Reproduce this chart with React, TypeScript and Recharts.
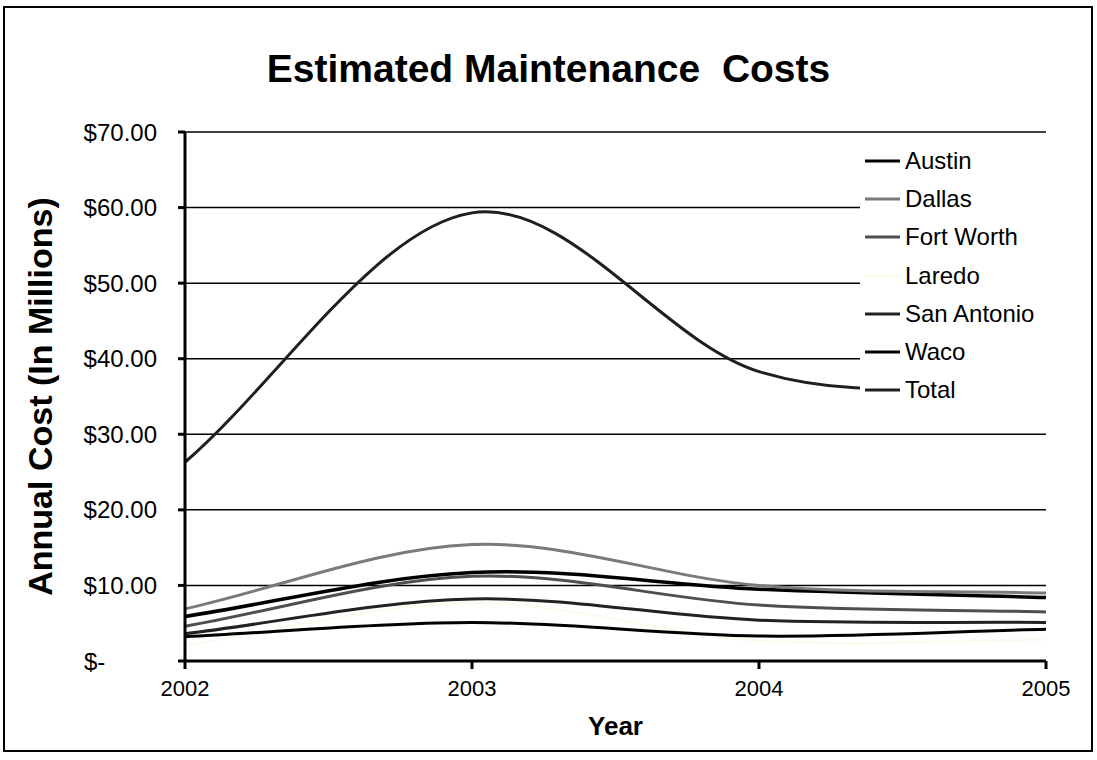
import { LineChart, Line, XAxis, YAxis, CartesianGrid, Legend } from "recharts"

const years = [2002, 2003, 2004, 2005]
const austin = [5.9, 11.7, 9.5, 8.4]
const dallas = [6.9, 15.4, 10.0, 9.0]
const fortWorth = [4.6, 11.2, 7.4, 6.5]
const laredo = [2.1, 7.7, 2.7, 2.8]
const sanAntonio = [3.6, 8.2, 5.4, 5.1]
const waco = [3.2, 5.1, 3.3, 4.2]
const total = [26.3, 59.3, 38.3, 36.0]

const costTicks = [0, 10, 20, 30, 40, 50, 60, 70]

const legendOrder = ["Austin", "Dallas", "Fort Worth", "Laredo", "San Antonio", "Waco", "Total"]

const data = years.map((year, i) => ({
  year,
  Austin: austin[i],
  Dallas: dallas[i],
  "Fort Worth": fortWorth[i],
  Laredo: laredo[i],
  "San Antonio": sanAntonio[i],
  Waco: waco[i],
  Total: total[i],
}))

const FONT = "'Liberation Sans', Arial, sans-serif"

// Excel-style smoothed line: Catmull-Rom bezier, endpoints reflected
function excelSmooth(context: any) {
  let pts: [number, number][] = []
  return {
    areaStart() {},
    areaEnd() {},
    lineStart() {
      pts = []
    },
    point(x: number, y: number) {
      pts.push([+x, +y])
    },
    lineEnd() {
      const n = pts.length
      if (n === 0) return
      context.moveTo(pts[0][0], pts[0][1])
      if (n === 1) return
      const get = (i: number): [number, number] => {
        if (i < 0) return [2 * pts[0][0] - pts[1][0], 2 * pts[0][1] - pts[1][1]]
        if (i >= n) return [2 * pts[n - 1][0] - pts[n - 2][0], 2 * pts[n - 1][1] - pts[n - 2][1]]
        return pts[i]
      }
      for (let i = 0; i < n - 1; i++) {
        const p0 = get(i - 1)
        const p1 = pts[i]
        const p2 = pts[i + 1]
        const p3 = get(i + 2)
        context.bezierCurveTo(
          p1[0] + (p2[0] - p0[0]) / 6,
          p1[1] + (p2[1] - p0[1]) / 6,
          p2[0] - (p3[0] - p1[0]) / 6,
          p2[1] - (p3[1] - p1[1]) / 6,
          p2[0],
          p2[1]
        )
      }
    },
  }
}

const CostTick = ({ x, y, payload }: any) => {
  if (payload.value === 0) {
    return (
      <text x={x - 73} y={y} dy="0.355em" textAnchor="start" fontSize={24} fontFamily={FONT} fill="#000">
        $-
      </text>
    )
  }
  return (
    <text x={x} y={y} dy="0.355em" textAnchor="end" fontSize={24} fontFamily={FONT} fill="#000">
      {`$${payload.value.toFixed(2)}`}
    </text>
  )
}

const YearTick = ({ x, y, payload }: any) => (
  <text x={x} y={y} dy="0.72em" textAnchor="middle" fontSize={22} fontFamily={FONT} fill="#000">
    {payload.value}
  </text>
)

const renderLegend = ({ payload }: any) => {
  const items = [...(payload || [])].sort(
    (a: any, b: any) => legendOrder.indexOf(a.value) - legendOrder.indexOf(b.value)
  )
  return (
    <div style={{ background: "#fff", paddingLeft: 5 }}>
      {items.map((entry: any) => (
        <div key={entry.value} style={{ display: "flex", alignItems: "center", height: 38.2 }}>
          <svg width={35} height={6}>
            <line x1={0} y1={3} x2={35} y2={3} stroke={entry.color} strokeWidth={3} />
          </svg>
          <span style={{ marginLeft: 5, fontSize: 24, fontFamily: FONT, color: "#000" }}>{entry.value}</span>
        </div>
      ))}
    </div>
  )
}

export default function App() {
  return (
    <div style={{ position: "absolute", left: 0, top: 0, width: 1097, height: 760, background: "#fff" }}>
      <div
        style={{
          position: "absolute",
          left: 3,
          top: 6,
          width: 1086,
          height: 742,
          border: "2px solid #000",
        }}
      />
      <div
        style={{
          position: "absolute",
          left: 0,
          top: 49,
          width: 1097,
          textAlign: "center",
          fontFamily: FONT,
          fontWeight: "bold",
          fontSize: 39,
          lineHeight: "39px",
          whiteSpace: "pre",
          color: "#000",
        }}
      >
        Estimated Maintenance  Costs
      </div>
      <LineChart width={1097} height={760} data={data} margin={{ top: 132, right: 51, bottom: 0, left: 0 }}>
        <CartesianGrid vertical={false} stroke="#000" strokeWidth={1.5} />
        <XAxis
          dataKey="year"
          type="number"
          domain={[2002, 2005]}
          ticks={years}
          height={99}
          tickSize={8}
          tickMargin={11}
          axisLine={{ stroke: "#000", strokeWidth: 3 }}
          tickLine={{ stroke: "#000", strokeWidth: 3 }}
          tick={<YearTick />}
          label={{
            value: "Year",
            position: "insideBottom",
            offset: 25,
            style: { fontSize: 26, fontWeight: "bold", fontFamily: FONT, fill: "#000" },
          }}
        />
        <YAxis
          domain={[0, 70]}
          ticks={costTicks}
          width={185}
          tickSize={7}
          tickMargin={21}
          axisLine={{ stroke: "#000", strokeWidth: 3 }}
          tickLine={{ stroke: "#000", strokeWidth: 3 }}
          tick={<CostTick />}
          label={{
            value: "Annual Cost (In Millions)",
            angle: -90,
            position: "insideLeft",
            offset: 40,
            style: { textAnchor: "middle", fontSize: 34, fontWeight: "bold", fontFamily: FONT, fill: "#000" },
          }}
        />
        <Line dataKey="Laredo" name="Laredo" type={excelSmooth} stroke="#fbfbf2" strokeWidth={3} dot={false} isAnimationActive={false} />
        <Line dataKey="Austin" name="Austin" type={excelSmooth} stroke="#000000" strokeWidth={3.5} dot={false} isAnimationActive={false} />
        <Line dataKey="Dallas" name="Dallas" type={excelSmooth} stroke="#7a7a7a" strokeWidth={3} dot={false} isAnimationActive={false} />
        <Line dataKey="Fort Worth" name="Fort Worth" type={excelSmooth} stroke="#4f4f4f" strokeWidth={3} dot={false} isAnimationActive={false} />
        <Line dataKey="San Antonio" name="San Antonio" type={excelSmooth} stroke="#222222" strokeWidth={3} dot={false} isAnimationActive={false} />
        <Line dataKey="Waco" name="Waco" type={excelSmooth} stroke="#000000" strokeWidth={3} dot={false} isAnimationActive={false} />
        <Line dataKey="Total" name="Total" type={excelSmooth} stroke="#1f1f1f" strokeWidth={3} dot={false} isAnimationActive={false} />
        <Legend
          layout="vertical"
          align="center"
          verticalAlign="middle"
          wrapperStyle={{ left: 860, top: 142, width: 190, height: 268 }}
          content={renderLegend}
        />
      </LineChart>
    </div>
  )
}
